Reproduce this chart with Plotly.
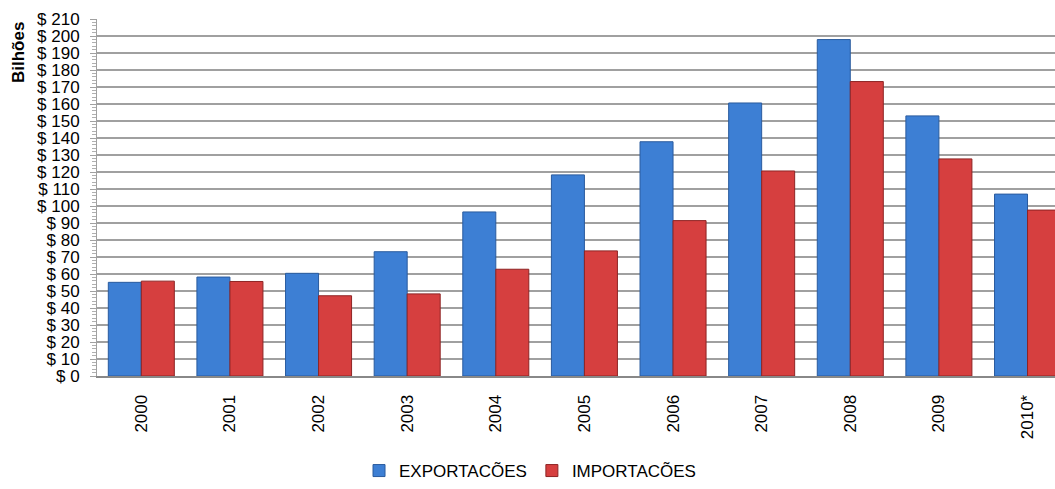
import plotly.graph_objects as go

anos = ["2000", "2001", "2002", "2003", "2004", "2005", "2006", "2007", "2008", "2009", "2010*"]
exportacoes = [55.1, 58.2, 60.4, 73.1, 96.5, 118.3, 137.8, 160.6, 197.9, 153.0, 107.0]
importacoes = [55.8, 55.6, 47.2, 48.3, 62.8, 73.6, 91.4, 120.6, 173.2, 127.7, 97.6]
y_ticks = list(range(0, 211, 10))

fonte = "Liberation Sans, Arial, sans-serif"

fig = go.Figure()
fig.add_trace(go.Bar(
    x=anos, y=exportacoes, name="EXPORTACÕES",
    marker=dict(color="#3d7fd4", line=dict(color="#2a5b9e", width=1)),
))
fig.add_trace(go.Bar(
    x=anos, y=importacoes, name="IMPORTACÕES",
    marker=dict(color="#d63f3f", line=dict(color="#8e2424", width=1)),
))

fig.update_layout(
    width=1055, height=489,
    margin=dict(l=97, r=0, t=19, b=113, autoexpand=False),
    paper_bgcolor="white", plot_bgcolor="white",
    barmode="group", bargap=0.255, bargroupgap=0,
    font=dict(family=fonte, size=17, color="black"),
    showlegend=True,
    legend=dict(orientation="h", x=0.452, xanchor="center", xref="paper",
                y=0, yanchor="bottom", yref="container",
                font=dict(size=17), itemwidth=30, tracegroupgap=0),
    xaxis=dict(
        type="category", range=[-0.5, 10.31], automargin=False,
        tickangle=-90, ticks="", showgrid=False,
        showline=True, linecolor="#888888", linewidth=2,
        ticklabelstandoff=10,
    ),
    yaxis=dict(
        range=[0, 210], tickvals=y_ticks, automargin=False,
        ticktext=[f"$ {v}" for v in y_ticks],
        showgrid=True, gridcolor="#a0a0a0", gridwidth=1.5,
        showline=True, linecolor="#a0a0a0", linewidth=1,
        ticks="outside", ticklen=6, tickcolor="#a0a0a0",
        ticklabelstandoff=7,
        minor=dict(dtick=2, ticks="outside", ticklen=4, tickcolor="#b0b0b0", showgrid=False),
        zeroline=False,
    ),
    annotations=[dict(
        text="<b>Bilhões</b>", xref="paper", yref="paper",
        x=-0.082, y=0.906, xanchor="center", yanchor="middle",
        textangle=-90, showarrow=False, font=dict(size=17),
    )],
)

fig.write_html("out.html")
